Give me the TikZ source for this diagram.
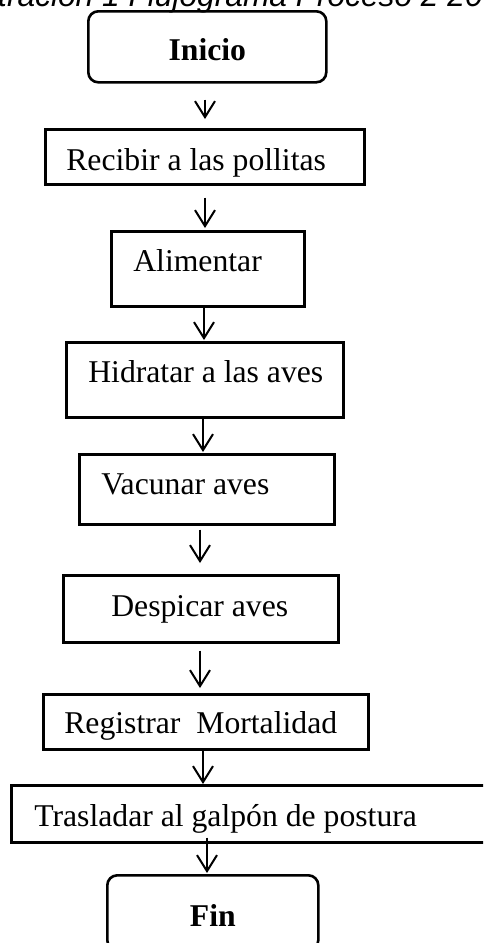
\documentclass[tikz,border=0pt]{standalone}
\usepackage{fontspec}
\setmainfont{Liberation Serif}
\newfontfamily\titulofont{Liberation Sans}
\usetikzlibrary{arrows.meta,calc}

\begin{document}
\begin{tikzpicture}[
  x=1pt, y=-1pt,
  every node/.style={font=\fontsize{31.7}{38}\selectfont},
  caja/.style args={#1/#2/#3/#4}{draw, line width=2.6pt, inner sep=0pt, anchor=north west,
    text width=#1pt, align=flush left, text height=#3pt, text depth=#4pt,
    execute at begin node={\hspace*{#2pt}}},
  terminal/.style args={#1/#2/#3}{draw, line width=2.6pt, rounded corners=10pt, inner sep=0pt,
    anchor=north west, minimum width=#1pt, text height=#2pt, text depth=#3pt,
    font=\fontsize{31.7}{38}\selectfont\bfseries},
  flecha/.style={line width=2pt, -{Straight Barb[length=16pt,width=20pt]}}
]
\useasboundingbox (0,0) rectangle (483,943);
\clip (0,0) rectangle (483,943);
\node[anchor=base west, inner sep=0pt, font=\fontsize{31.7}{38}\selectfont\titulofont\itshape]
  (titulo) at (-2,6.5) {tración 1 Flujograma Proceso 2 20};
\node[terminal=238/49/22] (inicio) at (87,10) {Inicio};
\node[caja=319/21/41/14] (recibir) at (44,128) {Recibir a las pollitas};
\node[caja=193/22/40/35] (alimentar) at (110,230) {Alimentar};
\node[caja=277/22/40/35] (hidratar) at (65,341) {Hidratar a las aves};
\node[caja=255/22/40/30] (vacunar) at (78,453) {Vacunar aves};
\node[caja=275/48/41/26] (despicar) at (62,574) {Despicar aves};
\node[caja=325/21/39/16] (registrar) at (42,693) {Registrar~ Mortalidad};
\node[caja=490/23/41/16] (trasladar) at (10,784) {Trasladar al galpón de postura};
\node[terminal=211/51/24] (fin) at (106,874) {Fin};
\foreach \de/\hacia/\x/\sal/\lle in {inicio/recibir/205/16/9, recibir/alimentar/205/12/2,
    alimentar/hidratar/204/0/1, hidratar/vacunar/203/0/1, vacunar/despicar/200/4/11,
    despicar/registrar/200/7/5, registrar/trasladar/203/0/0, trasladar/fin/207/-6/1}
  \draw[flecha] ($(\x,0 |- \de.south)+(0,\sal)$) -- ($(\x,0 |- \hacia.north)+(0,-\lle)$);
\end{tikzpicture}
\end{document}
